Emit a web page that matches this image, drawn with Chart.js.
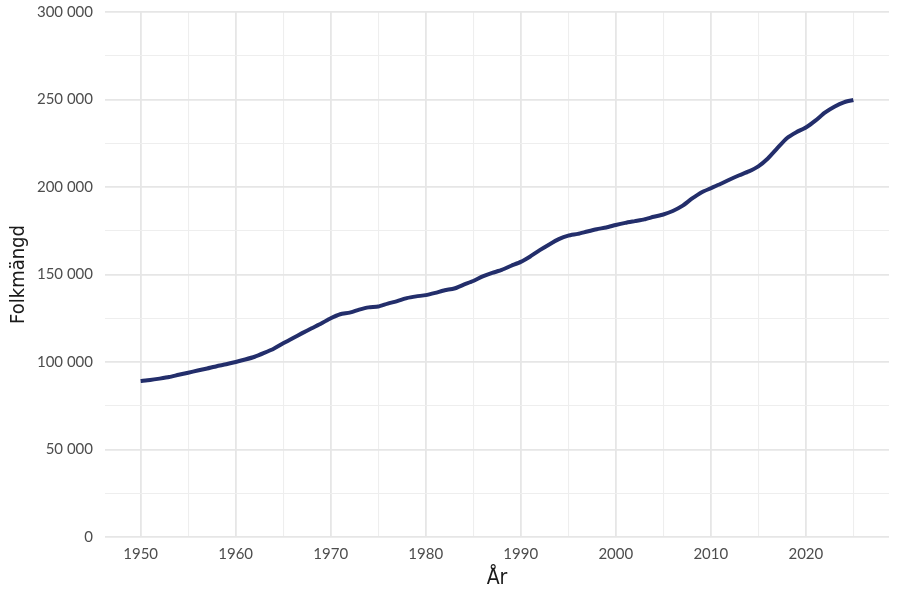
<!DOCTYPE html>
<html>
<head>
<meta charset="utf-8">
<script src="https://cdn.jsdelivr.net/npm/chart.js@4"></script>
<style>
  html, body { margin: 0; padding: 0; background: #ffffff; }
  #wrap { width: 900px; height: 600px; }
</style>
</head>
<body>
<div id="wrap"><canvas id="myChart" width="900" height="600"></canvas></div>
<script>
var years = [];
for (var y = 1950; y <= 2025; y++) years.push(y);

var population = [
    89100, 89700, 90500, 91400, 92700, 93900, 95100, 96300, 97600, 98700,
    100000, 101400, 103000, 105200, 107600, 110700, 113600, 116500, 119300, 122000,
    125000, 127300, 128200, 129900, 131200, 131700, 133400, 134800, 136500, 137500,
    138200, 139500, 141000, 142000, 144200, 146300, 148900, 150900, 152600, 155000,
    157200, 160300, 163900, 167200, 170200, 172200, 173200, 174600, 175900, 176900,
    178300, 179500, 180500, 181500, 183000, 184300, 186300, 189200, 193300, 196900,
    199300, 201700, 204300, 206700, 208900, 211800, 216300, 222200, 227900, 231300,
    234000, 237900, 242500, 245900, 248400, 249700
];

var xTicks = [1950, 1955, 1960, 1965, 1970, 1975, 1980, 1985, 1990, 1995, 2000, 2005, 2010, 2015, 2020, 2025];
var yTicks = [0, 25000, 50000, 75000, 100000, 125000, 150000, 175000, 200000, 225000, 250000, 275000, 300000];

function fmt(v) {
    return String(v).replace(/\B(?=(\d{3})+(?!\d))/g, ' ');
}

var titleFont = "'Liberation Sans Narrow', 'DejaVu Sans Condensed', Lato, sans-serif";

var ctx = document.getElementById('myChart').getContext('2d');
var myChart = new Chart(ctx, {
    type: 'line',
    data: {
        datasets: [{
            label: 'Folkmängd',
            data: years.map(function(yr, i) { return {x: yr, y: population[i]}; }),
            borderColor: '#232e6b',
            borderWidth: 4,
            pointRadius: 0,
            tension: 0.2,
            fill: false
        }]
    },
    options: {
        responsive: false,
        animation: false,
        layout: { padding: { top: 12, right: 11, left: 0, bottom: 0 } },
        plugins: { legend: { display: false }, tooltip: { enabled: false } },
        scales: {
            x: {
                type: 'linear',
                min: 1946.25,
                max: 2028.75,
                afterBuildTicks: function(scale) {
                    scale.ticks = xTicks.map(function(v) { return {value: v}; });
                },
                afterFit: function(scale) {
                    scale.height = 63;
                    scale.paddingLeft = 0;
                    scale.paddingRight = 0;
                },
                border: { display: false },
                grid: {
                    drawTicks: false,
                    color: function(c) { return c.tick && c.tick.value % 10 === 0 ? '#e6e6e6' : '#eeeeee'; },
                    lineWidth: function(c) { return c.tick && c.tick.value % 10 === 0 ? 1.8 : 1.1; }
                },
                ticks: {
                    autoSkip: false,
                    maxRotation: 0,
                    padding: 8,
                    color: '#4d4d4d',
                    font: { family: 'Lato', size: 15 },
                    callback: function(v) { return v % 10 === 0 ? String(v) : ''; }
                },
                title: {
                    display: true,
                    text: 'År',
                    color: '#1a1a1a',
                    font: { family: titleFont, size: 21 },
                    padding: { top: 0, bottom: 9 }
                }
            },
            y: {
                min: 0,
                max: 300000,
                afterBuildTicks: function(scale) {
                    scale.ticks = yTicks.map(function(v) { return {value: v}; });
                },
                afterFit: function(scale) {
                    scale.width = 105;
                    scale.paddingTop = 0;
                    scale.paddingBottom = 0;
                },
                border: { display: false },
                grid: {
                    drawTicks: false,
                    color: function(c) { return c.tick && c.tick.value % 50000 === 0 ? '#e6e6e6' : '#eeeeee'; },
                    lineWidth: function(c) { return c.tick && c.tick.value % 50000 === 0 ? 1.8 : 1.1; }
                },
                ticks: {
                    autoSkip: false,
                    padding: 12,
                    color: '#4d4d4d',
                    font: { family: 'Lato', size: 15 },
                    callback: function(v) { return v % 50000 === 0 ? fmt(v) : ''; }
                },
                title: {
                    display: true,
                    text: 'Folkmängd',
                    color: '#1a1a1a',
                    font: { family: titleFont, size: 20 },
                    padding: { top: 7, bottom: 0 }
                }
            }
        }
    }
});
</script>
</body>
</html>
